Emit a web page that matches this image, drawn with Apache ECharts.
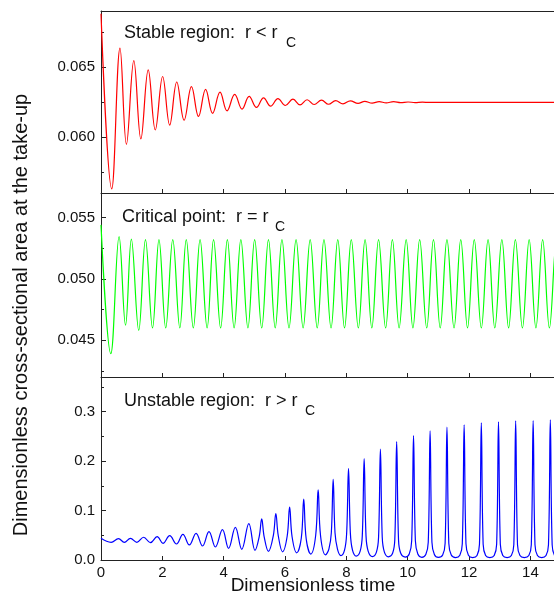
<!DOCTYPE html>
<html><head><meta charset="utf-8">
<script src="https://cdn.jsdelivr.net/npm/echarts@6/dist/echarts.min.js"></script>
<style>html,body{margin:0;padding:0;background:#fff}#c{width:554px;height:601px}</style>
</head><body><div id="c"></div>
<script>
// ---- tick values ----
const xTicks = [0, 2, 4, 6, 8, 10, 12, 14];
const stableTicks = [0.060, 0.065];
const stableMinor = [0.0575, 0.0625, 0.0675];
const criticalTicks = [0.045, 0.050, 0.055];
const criticalMinor = [0.0425, 0.0475, 0.0525];
const unstableTicks = [0.0, 0.1, 0.2, 0.3];
const unstableMinor = [0.05, 0.15, 0.25, 0.35];

// ---- Stable region (r < rC) ----
const stableT = [0, 0.35, 0.62, 0.83, 1.07, 1.30, 1.54, 1.77, 2.01, 2.24, 2.47, 2.71, 2.95, 3.18, 3.41, 3.64, 3.88, 4.11, 4.36, 4.60, 4.83, 5.07, 5.30, 5.53, 5.77, 6.01, 6.26, 6.49, 6.72, 6.95, 7.19, 7.42, 7.65, 7.89, 8.13, 8.38, 8.60, 8.84, 9.07, 9.30, 9.54, 9.77, 10.01, 10.24, 10.48, 10.71, 11.2, 12, 13, 14, 15];
const stableA = [0.0688, 0.0563, 0.06635, 0.05948, 0.06545, 0.05986, 0.06479, 0.0605, 0.06432, 0.06085, 0.06393, 0.0612, 0.0636, 0.06147, 0.0634, 0.06169, 0.0632, 0.06187, 0.06304, 0.06199, 0.0629, 0.06211, 0.0628, 0.0622, 0.06274, 0.06225, 0.0627, 0.06229, 0.06266, 0.06232, 0.06263, 0.06234, 0.0626, 0.06237, 0.06258, 0.0624, 0.06255, 0.06242, 0.06253, 0.06244, 0.06252, 0.06245, 0.0625, 0.06246, 0.06249, 0.06247, 0.06248, 0.06248, 0.06248, 0.06248, 0.06248];

// ---- Critical point (r = rC) ----
const criticalT = [0, 0.32, 0.59, 0.80, 0.99, 1.23, 1.45, 1.68, 1.89, 2.11, 2.34, 2.57, 2.78, 3.01, 3.23, 3.46, 3.67, 3.90, 4.12, 4.34, 4.56, 4.79, 5.01, 5.24, 5.46, 5.68, 5.90, 6.13, 6.36, 6.59, 6.82, 7.05, 7.27, 7.50, 7.72, 7.94, 8.16, 8.39, 8.61, 8.83, 9.05, 9.28, 9.50, 9.72, 9.95, 10.17, 10.39, 10.62, 10.84, 11.06, 11.28, 11.51, 11.73, 11.95, 12.17, 12.40, 12.62, 12.84, 13.07, 13.29, 13.51, 13.74, 13.96, 14.18, 14.40, 14.62, 14.85, 15.07];
const criticalA = [0.0544, 0.0439, 0.05345, 0.04622, 0.05324, 0.0458, 0.0532, 0.0460,
  0.0532, 0.0460, 0.0532, 0.0460, 0.0532, 0.0460, 0.0532, 0.0460, 0.0532, 0.0460,
  0.0532, 0.0460, 0.0532, 0.0460, 0.0532, 0.0460, 0.0532, 0.0460, 0.0532, 0.0460,
  0.0532, 0.0460, 0.0532, 0.0460, 0.0532, 0.0460, 0.0532, 0.0460, 0.0532, 0.0460,
  0.0532, 0.0460, 0.0532, 0.0460, 0.0532, 0.0460, 0.0532, 0.0460, 0.0532, 0.0460,
  0.0532, 0.0460, 0.0532, 0.0460, 0.0532, 0.0460, 0.0532, 0.0460, 0.0532, 0.0460,
  0.0532, 0.0460, 0.0532, 0.0460, 0.0532, 0.0460, 0.0532, 0.0460, 0.0532, 0.0460];

// ---- Unstable region (r > rC) ----
const unstableT = [0, 0.33, 0.57, 0.76, 0.96, 1.17, 1.39, 1.61, 1.83, 2.02, 2.24, 2.46, 2.67, 2.88, 3.10, 3.31, 3.52, 3.73, 3.96, 4.16, 4.38, 4.59, 4.82, 5.02,
  5.16, 5.24, 5.32, 5.46,
  5.62, 5.70, 5.78, 5.92,
  6.07, 6.15, 6.23, 6.38,
  6.53, 6.61, 6.69, 6.84,
  7.00, 7.08, 7.16, 7.32,
  7.43, 7.51, 7.57, 7.63, 7.71, 7.82,
  7.94, 8.01, 8.07, 8.13, 8.20, 8.32,
  8.45, 8.52, 8.58, 8.64, 8.71, 8.85,
  8.98, 9.05, 9.11, 9.17, 9.24, 9.37,
  9.51, 9.58, 9.64, 9.70, 9.77, 9.92,
  10.05, 10.13, 10.19, 10.25, 10.33, 10.46,
  10.59, 10.67, 10.73, 10.79, 10.87, 11.00,
  11.14, 11.22, 11.28, 11.34, 11.42, 11.56,
  11.70, 11.78, 11.84, 11.90, 11.98, 12.12,
  12.26, 12.34, 12.40, 12.46, 12.54, 12.68,
  12.82, 12.90, 12.96, 13.02, 13.10, 13.24,
  13.38, 13.46, 13.52, 13.58, 13.66, 13.80,
  13.95, 14.03, 14.09, 14.15, 14.23, 14.37,
  14.51, 14.59, 14.65, 14.71, 14.79, 14.93];
const unstableA = [0.0439, 0.0358, 0.0432, 0.0358, 0.0439, 0.0358, 0.046, 0.035, 0.0472, 0.0337, 0.0493, 0.0324, 0.052, 0.0304, 0.054, 0.0283, 0.0574, 0.0263, 0.0614, 0.0236, 0.066, 0.0216, 0.0735, 0.0196,
  0.048, 0.083, 0.047, 0.0175,
  0.050, 0.094, 0.049, 0.0165,
  0.048, 0.107, 0.047, 0.0145,
  0.044, 0.123, 0.043, 0.012,
  0.050, 0.142, 0.048, 0.0105,
  0.022, 0.055, 0.163, 0.055, 0.022, 0.009,
  0.020, 0.055, 0.185, 0.055, 0.020, 0.008,
  0.018, 0.050, 0.205, 0.050, 0.018, 0.007,
  0.016, 0.046, 0.224, 0.046, 0.016, 0.0065,
  0.014, 0.042, 0.2395, 0.042, 0.014, 0.006,
  0.012, 0.039, 0.2517, 0.039, 0.012, 0.0055,
  0.011, 0.036, 0.261, 0.036, 0.011, 0.0052,
  0.010, 0.034, 0.2686, 0.034, 0.010, 0.005,
  0.0095, 0.033, 0.2733, 0.033, 0.0095, 0.005,
  0.009, 0.032, 0.2773, 0.032, 0.009, 0.0048,
  0.009, 0.032, 0.2794, 0.032, 0.009, 0.0048,
  0.009, 0.031, 0.2814, 0.031, 0.009, 0.0047,
  0.009, 0.031, 0.282, 0.031, 0.009, 0.0047,
  0.009, 0.031, 0.2834, 0.031, 0.009, 0.0047];

const FONT = 'Liberation Sans, Arial, Helvetica, sans-serif';
const AXC = '#222';
const X_MAX = 14.77; // the original frame is cut by the picture's right edge

function zip(a, b) { return a.map((v, i) => [v, b[i]]); }

const panels = [
  { top: 11, height: 182, min: 0.056, max: 0.069, ticks: stableTicks, minor: stableMinor, dec: 3 },
  { top: 193, height: 184, min: 0.042, max: 0.057, ticks: criticalTicks, minor: criticalMinor, dec: 3 },
  { top: 377, height: 183, min: 0, max: 0.37, ticks: unstableTicks, minor: unstableMinor, dec: 1 }
];

const grid = panels.map(p => ({ left: 101, top: p.top, width: 453, height: p.height, show: false }));

const xAxis = panels.map((p, i) => ({
  type: 'value', gridIndex: i, min: 0, max: X_MAX, position: 'bottom',
  axisLine: { show: true, lineStyle: { color: AXC, width: 1 } },
  axisTick: { show: true, inside: true, length: 4, customValues: xTicks, lineStyle: { color: AXC, width: 1 } },
  axisLabel: { show: i === 2, customValues: xTicks, fontSize: 15, color: '#111', margin: 5, fontFamily: FONT },
  splitLine: { show: false }
}));
// top frame line of the upper panel
xAxis.push({
  type: 'value', gridIndex: 0, min: 0, max: X_MAX, position: 'top',
  axisLine: { show: true, lineStyle: { color: AXC, width: 1 } },
  axisTick: { show: false }, axisLabel: { show: false }, splitLine: { show: false }
});

const yAxis = [];
panels.forEach((p, i) => {
  yAxis.push({
    type: 'value', gridIndex: i, min: p.min, max: p.max, position: 'left',
    axisLine: { show: true, lineStyle: { color: AXC, width: 1 } },
    axisTick: { show: true, inside: true, length: 5, customValues: p.ticks, lineStyle: { color: AXC, width: 1 } },
    axisLabel: { show: true, customValues: p.ticks, fontSize: 15, color: '#111', margin: 6, fontFamily: FONT,
      formatter: v => Number(v).toFixed(p.dec) },
    splitLine: { show: false }
  });
});
panels.forEach((p, i) => {
  yAxis.push({
    type: 'value', gridIndex: i, min: p.min, max: p.max, position: 'left', offset: 0,
    axisLine: { show: false },
    axisTick: { show: true, inside: true, length: 3, customValues: p.minor, lineStyle: { color: AXC, width: 1 } },
    axisLabel: { show: false },
    splitLine: { show: false }
  });
});

const common = { type: 'line', showSymbol: false, symbol: 'none', smooth: 0.4, clip: true, animation: false };
const series = [
  Object.assign({}, common, { name: 'Stable region', xAxisIndex: 0, yAxisIndex: 0, data: zip(stableT, stableA), lineStyle: { color: '#ff0000', width: 1.2 } }),
  Object.assign({}, common, { name: 'Critical point', xAxisIndex: 1, yAxisIndex: 1, data: zip(criticalT, criticalA), lineStyle: { color: '#00ff00', width: 1.2 } }),
  Object.assign({}, common, { name: 'Unstable region', xAxisIndex: 2, yAxisIndex: 2, data: zip(unstableT, unstableA), lineStyle: { color: '#0000ff', width: 1.2 } })
];

function txt(text, x, y, size, opts) {
  return {
    type: 'text', x: x, y: y, silent: true,
    style: Object.assign({ text: text, font: size + 'px ' + FONT, fill: '#111',
      textAlign: 'left', textVerticalAlign: 'middle', align: 'left', verticalAlign: 'middle' }, opts || {})
  };
}

const graphic = [
  txt('Stable region:  r < r', 124, 33, 18),
  txt('C', 286, 43, 14),
  txt('Critical point:  r = r', 122, 217, 18),
  txt('C', 275, 227, 14),
  txt('Unstable region:  r > r', 124, 401.5, 18),
  txt('C', 305, 411, 14),
  txt('Dimensionless time', 313, 586, 19, { textAlign: 'center', align: 'center' }),
  Object.assign(txt('Dimensionless cross-sectional area at the take-up', 21, 315, 20, { textAlign: 'center', align: 'center' }), { rotation: Math.PI / 2 })
];

const chart = echarts.init(document.getElementById('c'), null, { renderer: 'canvas' });
chart.setOption({ animation: false, backgroundColor: '#fff', grid, xAxis, yAxis, series, graphic });
</script>
</body></html>
